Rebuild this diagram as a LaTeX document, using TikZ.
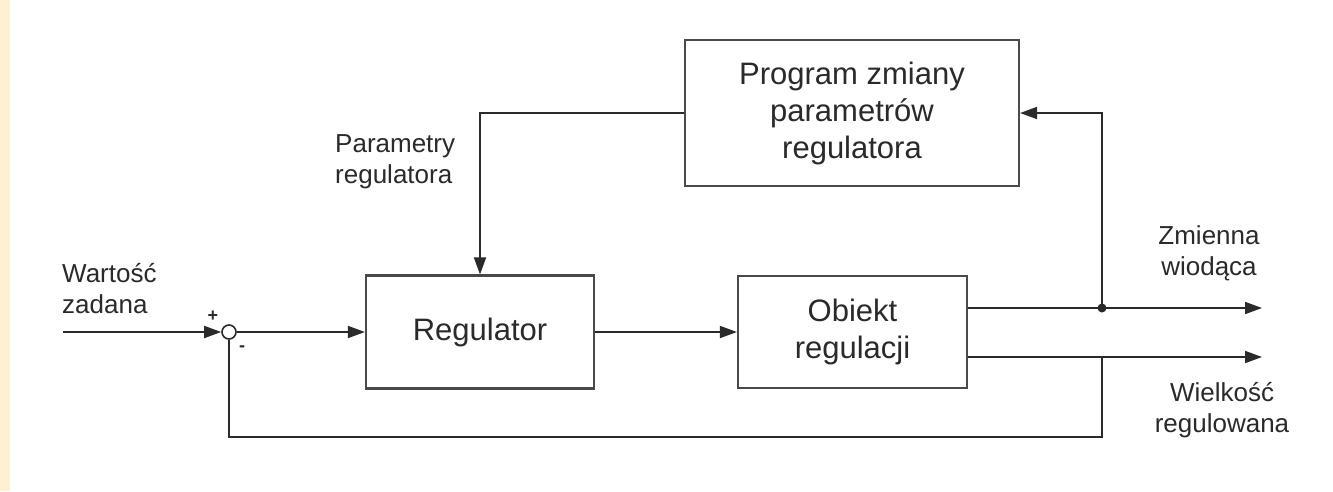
\documentclass[tikz,border=0pt]{standalone}
\usepackage{fontspec}
\setmainfont{Liberation Sans}
\usetikzlibrary{arrows.meta}
\definecolor{strip}{HTML}{FFEFD3}
\definecolor{ink}{HTML}{2A2A2A}
\definecolor{boxline}{HTML}{4A4A4A}
\tikzset{
  blk/.style={draw=boxline, line width=2.2pt, fill=white, align=center, text=ink,
    font=\fontsize{31}{37}\selectfont, inner sep=0pt},
  conn/.style={draw=ink, line width=1.8pt, -{Triangle[length=17pt,width=12pt]}},
  plain/.style={draw=ink, line width=1.8pt},
  lbl/.style={text=ink, font=\fontsize{26}{31}\selectfont, inner sep=0pt},
  sgn/.style={text=ink, font=\bfseries\fontsize{18}{18}\selectfont, inner sep=0pt}
}
\begin{document}
\begin{tikzpicture}[x=1pt,y=-1pt]
\useasboundingbox (0,0) rectangle (1333,491);
\fill[white] (0,0) rectangle (1333,491);
\fill[strip] (0,0) rectangle (10,491);

\node[blk, minimum width=334pt, minimum height=146pt] (prog) at (852,113) {Program zmiany\\parametrów\\regulatora};
\node[blk, minimum width=228pt, minimum height=113pt] (reg) at (480,332) {Regulator};
\node[blk, minimum width=229pt, minimum height=112pt] (obj) at (852.5,332) {Obiekt\\regulacji};
\node[draw=ink, line width=1.6pt, circle, minimum size=14pt, inner sep=0pt, fill=white] (sum) at (229,332) {};

\coordinate (in) at (63,332);
\coordinate (j1) at (1102,308);
\coordinate (j2) at (1102,357);
\coordinate (o1) at (1262,308);
\coordinate (o2) at (1262,357);
\coordinate (fb) at (1102,437);

\draw[conn] (in) -- (sum.west);
\draw[conn] (sum.east) -- (reg.west);
\draw[conn] (reg.east) -- (obj.west);
\draw[conn] (obj.east |- j1) -- (o1);
\draw[conn] (obj.east |- j2) -- (o2);
\draw[conn] (j1) |- (prog.east);
\draw[conn] (prog.west) -| (reg.north);
\draw[plain] (j2) -- (fb) -| (sum.south);
\fill[ink] (j1) circle (4.5pt);

\node[lbl, anchor=west, align=left] (wz) at (62,289) {Wartość\\zadana};
\node[lbl, anchor=west, align=left] (pr) at (335,162) {Parametry\\regulatora};
\node[lbl, align=center] (zw) at (1209,253) {Zmienna\\wiodąca};
\node[lbl, align=center] (wr) at (1222,410) {Wielkość\\regulowana};
\node[sgn] (plus) at (213,316) {+};
\node[sgn] (minus) at (242,349) {-};
\end{tikzpicture}
\end{document}
